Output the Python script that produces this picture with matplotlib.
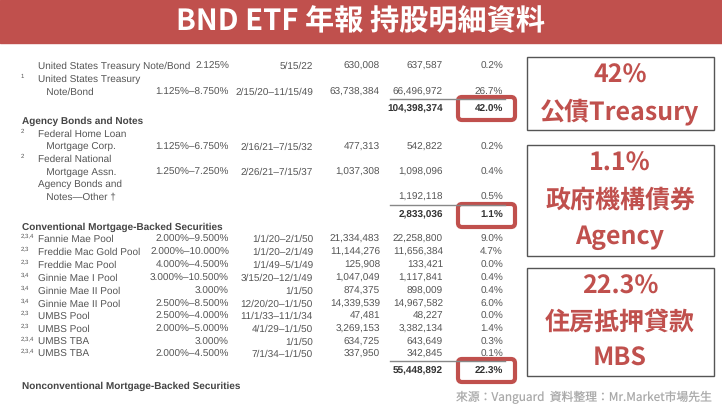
import matplotlib
import matplotlib.pyplot as plt
from matplotlib.patches import Rectangle, FancyBboxPatch

matplotlib.rcParams['text.hinting'] = 'no_hinting'
matplotlib.rcParams['text.hinting_factor'] = 1

RED = '#c0504d'
TXT = '#555555'
CJK = ['Noto Sans CJK TC', 'Noto Sans CJK JP', 'Noto Sans CJK SC', 'Noto Sans CJK KR']
TAB = 'Liberation Sans'
FS = 7.2

# table rows
names = ['United States Treasury Note/Bond', 'United States Treasury', '   Note/Bond', '',
         'Agency Bonds and Notes', 'Federal Home Loan', '   Mortgage Corp.', 'Federal National',
         '   Mortgage Assn.', 'Agency Bonds and', '   Notes\u2014Other \u2020', '',
         'Conventional Mortgage-Backed Securities', 'Fannie Mae Pool', 'Freddie Mac Gold Pool',
         'Freddie Mac Pool', 'Ginnie Mae I Pool', 'Ginnie Mae II Pool', 'Ginnie Mae II Pool',
         'UMBS Pool', 'UMBS Pool', 'UMBS TBA', 'UMBS TBA', '',
         'Nonconventional Mortgage-Backed Securities']
sups = ['', '1', '', '', '', '2', '', '2', '', '', '', '', '',
        '2,3,4', '2,3', '2,3', '3,4', '3,4', '3,4', '2,3', '2,3', '2,3,4', '2,3,4', '', '']
coupons = ['2.125%', '', '1.125%\u20138.750%', '', '', '', '1.125%\u20136.750%', '',
           '1.250%\u20137.250%', '', '', '', '',
           '2.000%\u20139.500%', '2.000%\u201310.000%', '4.000%\u20134.500%', '3.000%\u201310.500%',
           '3.000%', '2.500%\u20138.500%', '2.500%\u20134.000%', '2.000%\u20135.000%', '3.000%',
           '2.000%\u20134.500%', '', '']
maturities = ['5/15/22', '', '2/15/20\u201311/15/49', '', '', '', '2/16/21\u20137/15/32', '',
              '2/26/21\u20137/15/37', '', '', '', '',
              '1/1/20\u20132/1/50', '1/1/20\u20132/1/49', '1/1/49\u20135/1/49', '3/15/20\u201312/1/49',
              '1/1/50', '12/20/20\u20131/1/50', '11/1/33\u201311/1/34', '4/1/29\u20131/1/50', '1/1/50',
              '7/1/34\u20131/1/50', '', '']
faces = ['630,008', '', '63,738,384', '', '', '', '477,313', '', '1,037,308', '', '', '', '',
         '21,334,483', '11,144,276', '125,908', '1,047,049', '874,375', '14,339,539', '47,481',
         '3,269,153', '634,725', '337,950', '', '']
markets = ['637,587', '', '66,496,972', '104,398,374', '', '', '542,822', '', '1,098,096', '',
           '1,192,118', '2,833,036', '',
           '22,258,800', '11,656,384', '133,421', '1,117,841', '898,009', '14,967,582', '48,227',
           '3,382,134', '643,649', '342,845', '55,448,892', '']
pcts = ['0.2%', '', '26.7%', '42.0%', '', '', '0.2%', '', '0.4%', '', '0.5%', '1.1%', '',
        '9.0%', '4.7%', '0.0%', '0.4%', '0.4%', '6.0%', '0.0%', '1.4%', '0.3%', '0.1%', '22.3%', '']
row_y = [65, 78, 91, 108, 120, 133, 146, 158, 171, 183, 196, 214, 226,
         238, 251, 264, 277, 290, 303, 315, 328, 341, 353, 370, 385]
headers = {4, 12, 24}
totals = {3, 11, 23}

callout_big = ['42%', '1.1%', '22.3%']
callout_sub = [['公債Treasury'], ['政府機構債券', 'Agency'], ['住房抵押貸款', 'MBS']]

fig = plt.figure(figsize=(7.22, 4.11), dpi=100)
ax = fig.add_axes([0, 0, 1, 1])
ax.set_xlim(0, 722)
ax.set_ylim(411, 0)
ax.axis('off')

# title bar
ax.add_patch(Rectangle((0, 0), 722, 43, color=RED))
ax.text(361, 22, 'BND ETF 年報 持股明細資料', color='white', fontsize=21, fontweight='bold',
        ha='center', va='center', fontfamily=CJK)


def cell(x, y, s, ha='right', **kw):
    kw.setdefault('color', TXT)
    ax.text(x, y + 3.5, s, fontsize=FS, ha=ha, va='baseline', fontfamily=TAB, **kw)


for i, y in enumerate(row_y):
    bold = i in headers or i in totals
    fw = 'bold' if bold else 'normal'
    if i in headers:
        cell(22, y, names[i], ha='left', fontweight='bold', color='#444444')
        continue
    if sups[i]:
        ax.text(21, y - 2, sups[i], fontsize=4.5, color=TXT, va='center', fontfamily=TAB)
    cell(38, y, names[i], ha='left')
    cell(229, y, coupons[i])
    cell(313, y, maturities[i])
    cell(380, y, faces[i])
    tc = '#333333' if bold else TXT
    cell(443, y, markets[i], fontweight=fw, color=tc)
    cell(503, y, pcts[i], fontweight=fw, color=tc)
    if i in totals:
        ax.plot([390, 505], [y - 9, y - 9], color='#888888', lw=1)

# red highlight boxes around subtotals
for (x0, y0) in [(458, 97), (458, 204), (458, 359)]:
    ax.add_patch(FancyBboxPatch((x0, y0), 57, 23, boxstyle='round,pad=0,rounding_size=4',
                                fill=False, ec=RED, lw=3))

# right callouts
boxes = [(57, 130), (145, 256), (268, 376)]
for k, (y0, y1) in enumerate(boxes):
    ax.add_patch(Rectangle((527, y0), 187, y1 - y0, fill=False, ec='#555555', lw=1))
    n = 1 + len(callout_sub[k])
    ys = [y0 + (y1 - y0) * (j + 0.5) / n for j in range(n)]
    ax.text(620, ys[0], callout_big[k], color=RED, fontsize=18, fontweight='bold',
            ha='center', va='center', fontfamily=CJK)
    for j, s in enumerate(callout_sub[k]):
        ax.text(620, ys[j + 1], s, color=RED, fontsize=18, fontweight='bold',
                ha='center', va='center', fontfamily=CJK)

ax.add_patch(Rectangle((0, 389), 722, 22, color='white'))
ax.text(712, 397, '來源：Vanguard  資料整理：Mr.Market市場先生', color='#aaaaaa', fontsize=8.5,
        ha='right', va='center', fontfamily=CJK)

fig.savefig('out.png', dpi=100)
